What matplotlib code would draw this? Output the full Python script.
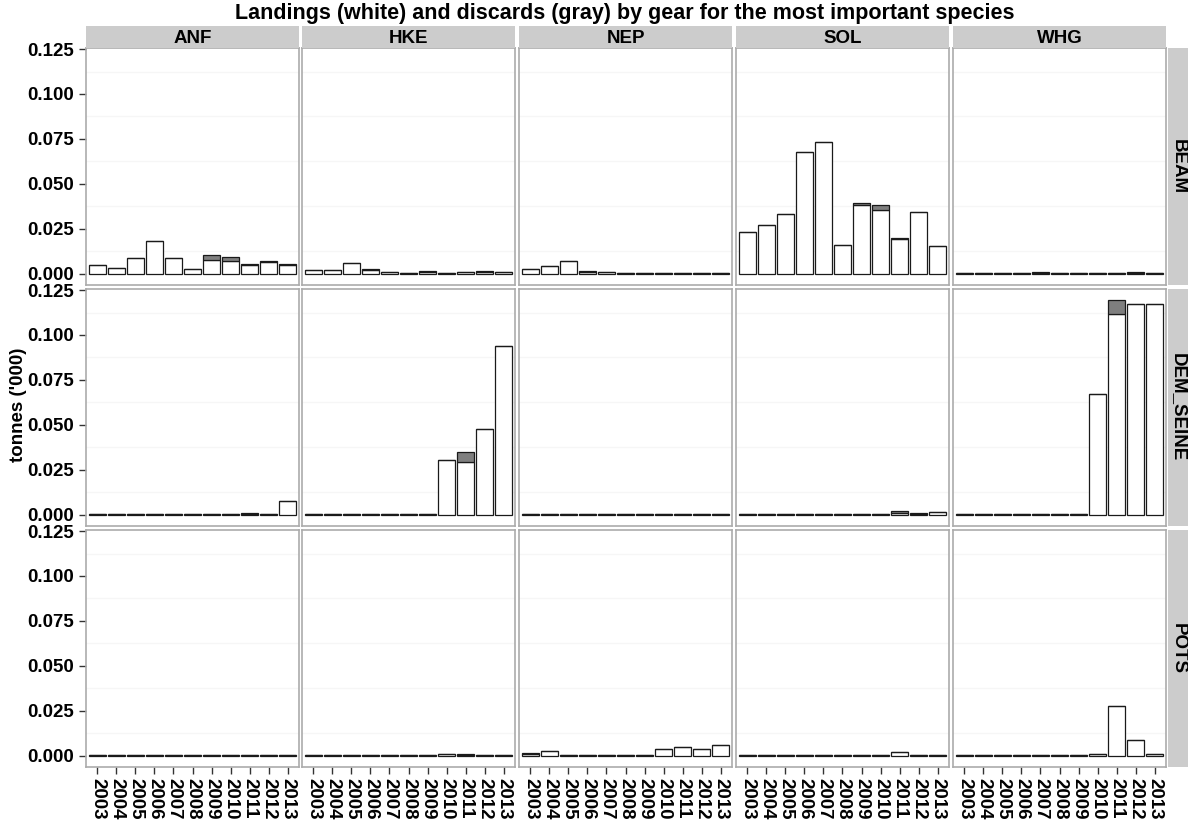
import matplotlib
matplotlib.use("Agg")
import matplotlib.pyplot as plt
import numpy as np

plt.rcParams["font.family"] = ["Liberation Sans", "DejaVu Sans"]
plt.rcParams["font.weight"] = "bold"

years = [str(y) for y in range(2003, 2014)]
species = ["ANF", "HKE", "NEP", "SOL", "WHG"]
gears = ["BEAM", "DEM_SEINE", "POTS"]

# landings (L) and discards (D), tonnes ('000), 2003..2013
BEAM_ANF_L = [0.0045, 0.0030, 0.0088, 0.0179, 0.0084, 0.0026, 0.0077, 0.0071, 0.0048, 0.0064, 0.0049]
BEAM_ANF_D = [0, 0, 0, 0, 0, 0, 0.0027, 0.0022, 0.0004, 0.0005, 0.0005]
BEAM_HKE_L = [0.0021, 0.0019, 0.0060, 0.0020, 0.0008, 0.0002, 0.0006, 0.0002, 0.0006, 0.0008, 0.0007]
BEAM_HKE_D = [0, 0, 0, 0.0003, 0.0002, 0.0001, 0.0006, 0.0002, 0.0004, 0.0004, 0.0004]
BEAM_NEP_L = [0.0026, 0.0043, 0.0071, 0.0011, 0.0006, 0.0002, 0.0002, 0.0001, 0.0001, 0.0001, 0.0001]
BEAM_NEP_D = [0, 0, 0, 0.0002, 0.0004, 0, 0.0003, 0.0001, 0.0001, 0.0001, 0.0001]
BEAM_SOL_L = [0.0232, 0.0271, 0.0330, 0.0674, 0.0732, 0.0157, 0.0380, 0.0356, 0.0192, 0.0345, 0.0153]
BEAM_SOL_D = [0, 0, 0, 0, 0, 0, 0.0015, 0.0026, 0.0004, 0, 0]
BEAM_WHG_L = [0.0002, 0.0001, 0.0003, 0.0002, 0.0005, 0.0001, 0.0002, 0.0002, 0.0001, 0.0004, 0.0001]
BEAM_WHG_D = [0.0001, 0.0001, 0.0002, 0.0001, 0.0003, 0.0001, 0.0001, 0.0001, 0.0001, 0.0004, 0.0001]

DEM_ANF_L = [0.0001, 0.0001, 0.0001, 0.0001, 0.0001, 0.0001, 0.0001, 0.0002, 0.0004, 0.0003, 0.0076]
DEM_ANF_D = [0, 0, 0, 0, 0, 0, 0, 0, 0.0005, 0.0001, 0]
DEM_HKE_L = [0.0001, 0.0001, 0.0001, 0.0001, 0.0001, 0.0001, 0.0001, 0.0305, 0.0290, 0.0474, 0.0940]
DEM_HKE_D = [0, 0, 0, 0, 0, 0, 0, 0, 0.0058, 0, 0]
DEM_NEP_L = [0.0001, 0.0001, 0.0001, 0.0001, 0.0001, 0.0001, 0.0001, 0.0001, 0.0001, 0.0001, 0.0001]
DEM_NEP_D = [0, 0, 0, 0, 0, 0, 0, 0, 0, 0, 0]
DEM_SOL_L = [0.0001, 0.0001, 0.0001, 0.0001, 0.0001, 0.0001, 0.0001, 0.0002, 0.0008, 0.0004, 0.0015]
DEM_SOL_D = [0, 0, 0, 0, 0, 0, 0, 0, 0.0009, 0.0002, 0]
DEM_WHG_L = [0.0001, 0.0001, 0.0001, 0.0001, 0.0001, 0.0001, 0.0001, 0.0670, 0.1118, 0.1170, 0.1174]
DEM_WHG_D = [0, 0, 0, 0, 0, 0, 0, 0, 0.0078, 0, 0]

POTS_ANF_L = [0.0002, 0.0002, 0.0002, 0.0002, 0.0002, 0.0002, 0.0002, 0.0002, 0.0002, 0.0002, 0.0002]
POTS_ANF_D = [0, 0, 0, 0, 0, 0, 0, 0, 0, 0, 0]
POTS_HKE_L = [0.0001, 0.0001, 0.0001, 0.0001, 0.0001, 0.0001, 0.0001, 0.0010, 0.0005, 0.0003, 0.0001]
POTS_HKE_D = [0, 0, 0, 0, 0, 0, 0, 0, 0.0005, 0.0001, 0]
POTS_NEP_L = [0.0010, 0.0025, 0.0001, 0.0001, 0.0001, 0.0001, 0.0001, 0.0036, 0.0045, 0.0037, 0.0060]
POTS_NEP_D = [0.0003, 0, 0, 0, 0, 0, 0, 0, 0, 0, 0]
POTS_SOL_L = [0.0001, 0.0001, 0.0001, 0.0001, 0.0001, 0.0001, 0.0001, 0.0001, 0.0018, 0.0003, 0.0001]
POTS_SOL_D = [0, 0, 0, 0, 0, 0, 0, 0, 0, 0, 0]
POTS_WHG_L = [0.0001, 0.0001, 0.0001, 0.0001, 0.0001, 0.0001, 0.0001, 0.0011, 0.0274, 0.0084, 0.0006]
POTS_WHG_D = [0, 0, 0, 0, 0, 0, 0, 0, 0, 0, 0]

table = {
    "BEAM": [(BEAM_ANF_L, BEAM_ANF_D), (BEAM_HKE_L, BEAM_HKE_D), (BEAM_NEP_L, BEAM_NEP_D),
             (BEAM_SOL_L, BEAM_SOL_D), (BEAM_WHG_L, BEAM_WHG_D)],
    "DEM_SEINE": [(DEM_ANF_L, DEM_ANF_D), (DEM_HKE_L, DEM_HKE_D), (DEM_NEP_L, DEM_NEP_D),
                  (DEM_SOL_L, DEM_SOL_D), (DEM_WHG_L, DEM_WHG_D)],
    "POTS": [(POTS_ANF_L, POTS_ANF_D), (POTS_HKE_L, POTS_HKE_D), (POTS_NEP_L, POTS_NEP_D),
             (POTS_SOL_L, POTS_SOL_D), (POTS_WHG_L, POTS_WHG_D)],
}

W, H = 1188, 821
fig = plt.figure(figsize=(W / 100, H / 100), dpi=100, facecolor="white")


def px_axes(x0, y0, w, h):
    return fig.add_axes([x0 / W, 1 - (y0 + h) / H, w / W, h / H])


col_x = [86, 302, 519, 736, 953]
row_y = [48, 289, 530]
pw, ph = 213, 237
border = "#ABABAB"
strip_bg = "#CCCCCC"
fs = 13.5

x = np.arange(1, len(years) + 1)
yticks = [0.0, 0.025, 0.05, 0.075, 0.1, 0.125]
minor = [0.0125, 0.0375, 0.0625, 0.0875, 0.1125]

for r, gear in enumerate(gears):
    for c, sp in enumerate(species):
        ax = px_axes(col_x[c], row_y[r], pw, ph)
        land, disc = table[gear][c]
        for m in minor:
            ax.axhline(m, color="#F6F6F6", lw=1, zorder=0)
        ax.bar(x, land, width=0.9, color="white", edgecolor="#1A1A1A", lw=0.9, zorder=2)
        ax.bar(x, disc, width=0.9, bottom=land, color="#7F7F7F", edgecolor="#1A1A1A",
               lw=0.9, zorder=2)
        ax.set_xlim(0.4, 11.6)
        ax.set_ylim(-0.0064, 0.1256)
        for s in ax.spines.values():
            s.set_color(border)
            s.set_linewidth(1.2)
        ax.set_yticks(yticks)
        ax.set_xticks(x)
        ax.tick_params(colors="#333333", length=5, width=1, labelcolor="black",
                       labelsize=fs)
        if c == 0:
            ax.set_yticklabels(["%.3f" % v for v in yticks], fontweight="bold")
        else:
            ax.tick_params(axis="y", length=0, labelleft=False)
        if r == len(gears) - 1:
            ax.set_xticklabels(years, rotation=-90, fontweight="bold")
            ax.tick_params(axis="x", pad=3)
        else:
            ax.tick_params(axis="x", length=0, labelbottom=False)

        if r == 0:
            sax = px_axes(col_x[c], 26, pw, 22)
            sax.set_facecolor(strip_bg)
            sax.set_xticks([])
            sax.set_yticks([])
            for s in sax.spines.values():
                s.set_visible(False)
            sax.text(0.5, 0.45, sp, ha="center", va="center", fontsize=fs,
                     fontweight="bold", transform=sax.transAxes)

    rax = px_axes(1168, row_y[r], 24, ph)
    rax.set_facecolor(strip_bg)
    rax.set_xticks([])
    rax.set_yticks([])
    for s in rax.spines.values():
        s.set_visible(False)
    rax.text(0.42, 0.5, gear, ha="center", va="center", rotation=-90, fontsize=fs,
             fontweight="bold", transform=rax.transAxes)

fig.text(625 / W, 1 - 14 / H,
         "Landings (white) and discards (gray) by gear for the most important species",
         ha="center", va="center", fontsize=15.5, fontweight="bold")
fig.text(19 / W, 1 - 405 / H, "tonnes ('000)", ha="center", va="center", rotation=90,
         fontsize=fs, fontweight="bold")

fig.savefig("out.png", dpi=100, facecolor="white")
